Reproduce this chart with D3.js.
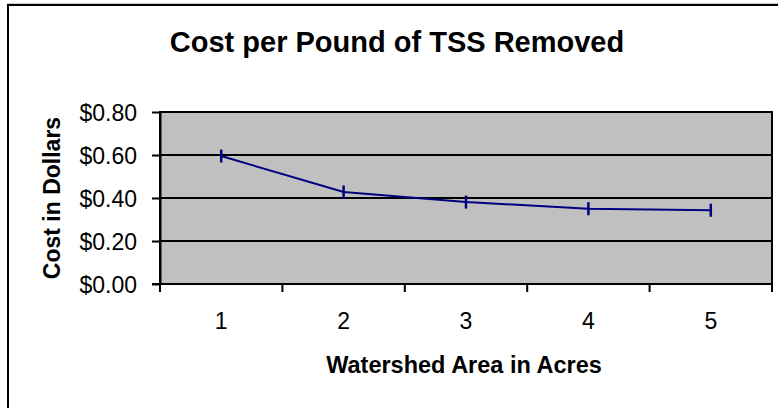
<!DOCTYPE html>
<html>
<head>
<meta charset="utf-8">
<script src="https://cdn.jsdelivr.net/npm/d3@7/dist/d3.min.js"></script>
<style>
  body { margin: 0; background: #fff; }
  text { font-family: "Liberation Sans", Arial, sans-serif; fill: #000; }
</style>
</head>
<body>
<script>
// chart data
var categories = ["1", "2", "3", "4", "5"];
var costs = [0.595, 0.428, 0.381, 0.350, 0.343];
var yTicks = [0, 0.2, 0.4, 0.6, 0.8];
var chartTitle = "Cost per Pound of TSS Removed";
var xTitle = "Watershed Area in Acres";
var yTitle = "Cost in Dollars";

var width = 778, height = 408;
var plot = { left: 160, right: 772, top: 112, bottom: 284 };

var svg = d3.select("body").append("svg")
  .attr("width", width)
  .attr("height", height);

// outer chart frame (right and bottom edges fall outside the picture)
svg.append("line")
  .attr("x1", 7).attr("x2", width)
  .attr("y1", 3.5).attr("y2", 3.5)
  .style("stroke", "#c8c8c8").style("stroke-width", 1);
svg.append("rect")
  .attr("x", 8).attr("y", 5)
  .attr("width", width + 20).attr("height", height + 20)
  .style("fill", "none").style("stroke", "#000").style("stroke-width", 2);

// scales
var x = d3.scaleBand().domain(categories).range([plot.left, plot.right]).padding(0);
var y = d3.scaleLinear().domain([0, 0.8]).range([plot.bottom, plot.top]);

// plot area
svg.append("rect")
  .attr("x", plot.left).attr("y", plot.top)
  .attr("width", plot.right - plot.left)
  .attr("height", plot.bottom - plot.top)
  .style("fill", "#c0c0c0")
  .style("stroke", "#000").style("stroke-width", 2);

// horizontal gridlines
svg.append("g").selectAll("line")
  .data(yTicks)
  .enter().append("line")
  .attr("x1", plot.left).attr("x2", plot.right)
  .attr("y1", function(d) { return y(d); })
  .attr("y2", function(d) { return y(d); })
  .style("stroke", "#000").style("stroke-width", 2);

// y axis
var yAxis = svg.append("g")
  .attr("transform", "translate(" + plot.left + ",0)")
  .call(d3.axisLeft(y).tickValues(yTicks).tickFormat(d3.format("$.2f"))
    .tickSizeInner(8).tickSizeOuter(0).tickPadding(15));
yAxis.select(".domain").style("stroke", "#000").style("stroke-width", 2);
yAxis.selectAll(".tick line").style("stroke", "#000").style("stroke-width", 2);
yAxis.selectAll(".tick text")
  .style("font-size", "23px").attr("dy", "0.36em");

// x axis: labels at band centres, ticks at band edges
var xAxis = svg.append("g")
  .attr("transform", "translate(0," + plot.bottom + ")")
  .call(d3.axisBottom(x).tickSize(0).tickPadding(29));
xAxis.select(".domain").remove();
xAxis.selectAll(".tick text").style("font-size", "23px");

var edges = categories.map(function(c) { return x(c); }).concat([x.range()[1]]);
svg.append("line")
  .attr("x1", plot.left - 8).attr("x2", plot.right)
  .attr("y1", plot.bottom).attr("y2", plot.bottom)
  .style("stroke", "#000").style("stroke-width", 2);
svg.append("g").selectAll("line")
  .data(edges)
  .enter().append("line")
  .attr("x1", function(d) { return d; })
  .attr("x2", function(d) { return d; })
  .attr("y1", plot.bottom).attr("y2", plot.bottom + 8)
  .style("stroke", "#000").style("stroke-width", 2);

// data line
var pts = categories.map(function(c, i) { return [x(c) + x.bandwidth() / 2, y(costs[i])]; });
svg.append("path")
  .datum(pts)
  .attr("d", d3.line())
  .style("fill", "none")
  .style("stroke", "#000080").style("stroke-width", 2);

// dash markers
svg.append("g").selectAll("line")
  .data(pts)
  .enter().append("line")
  .attr("x1", function(d) { return d[0]; })
  .attr("x2", function(d) { return d[0]; })
  .attr("y1", function(d) { return d[1] - 6.5; })
  .attr("y2", function(d) { return d[1] + 6.5; })
  .style("stroke", "#000080").style("stroke-width", 2.5);

// titles
svg.append("text")
  .attr("x", 397).attr("y", 52)
  .style("text-anchor", "middle")
  .style("font-weight", "bold")
  .style("font-size", "29px")
  .text(chartTitle);

svg.append("text")
  .attr("x", 464).attr("y", 373)
  .style("text-anchor", "middle")
  .style("font-weight", "bold")
  .style("font-size", "23.5px")
  .text(xTitle);

svg.append("text")
  .attr("transform", "translate(60," + ((plot.top + plot.bottom) / 2) + ") rotate(-90)")
  .style("text-anchor", "middle")
  .style("font-weight", "bold")
  .style("font-size", "23px")
  .text(yTitle);
</script>
</body>
</html>
